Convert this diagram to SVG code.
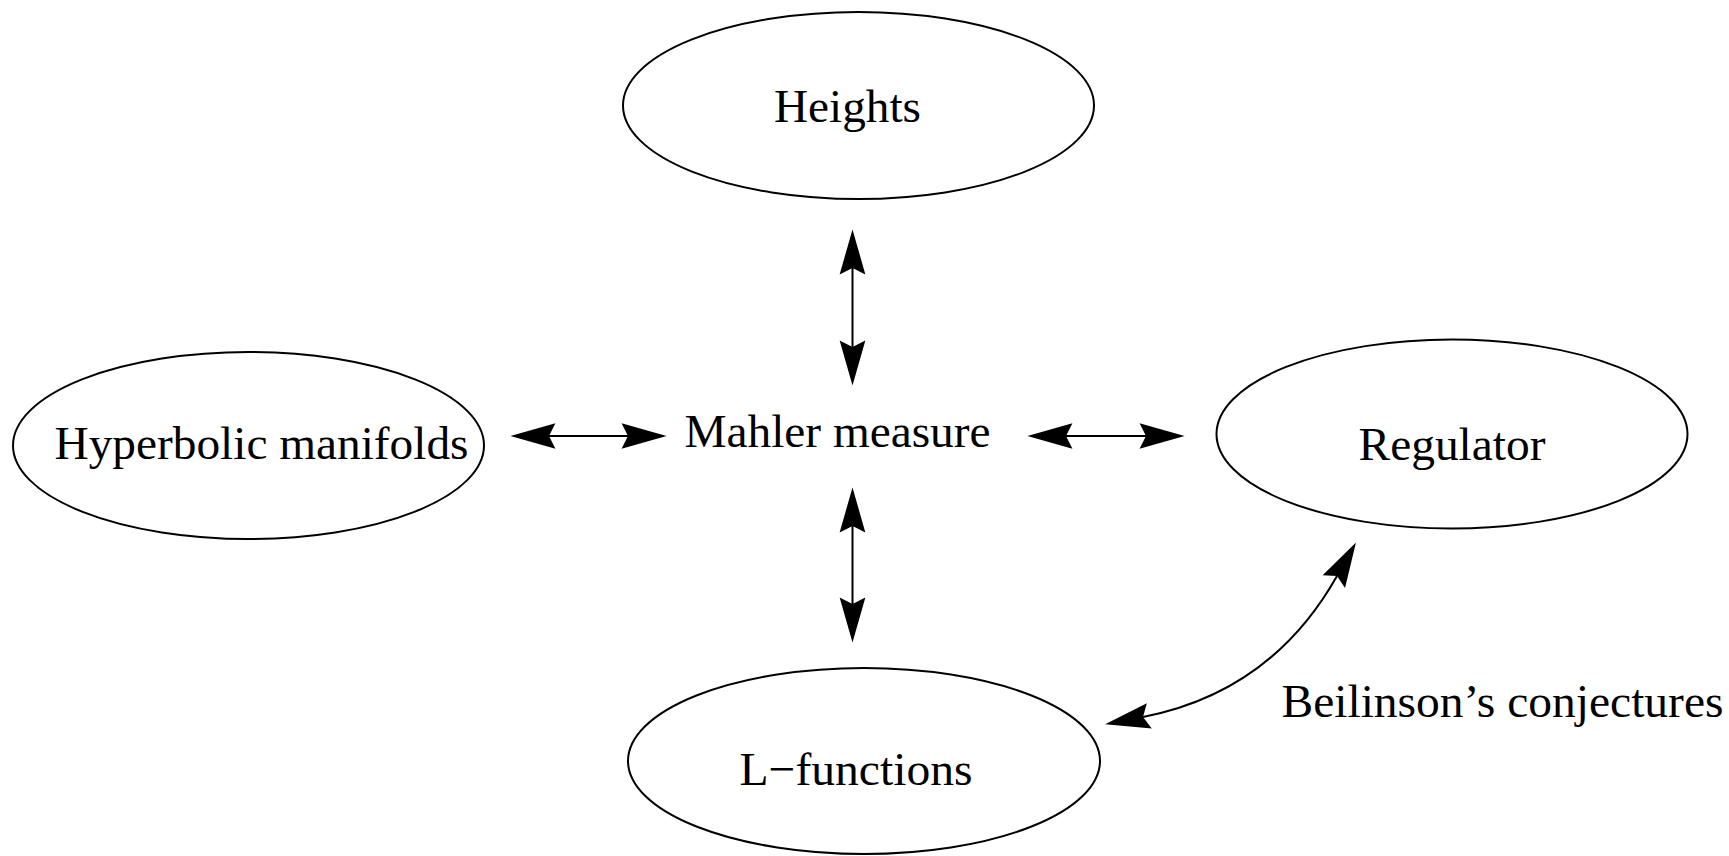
<svg xmlns="http://www.w3.org/2000/svg" width="1729" height="856" viewBox="0 0 1729 856">
<style>
.node{fill:#fff;stroke:#000;stroke-width:2}
.lbl{font-family:"Liberation Serif","Times New Roman",serif;font-size:47px;fill:#000;text-anchor:middle}
.edge{fill:none;stroke:#000;stroke-width:2}
</style>
<defs>
<marker id="ah" markerUnits="userSpaceOnUse" orient="auto-start-reverse" refX="0" refY="0" markerWidth="50" markerHeight="30" viewBox="-8 -14 46 28" overflow="visible">
<path d="M36,0 L-6,-12 L0,0 L-6,12 Z" fill="#000"/>
</marker>
</defs>
<rect width="1729" height="856" fill="#fff"/>
<g id="heights">
<ellipse class="node" cx="858.5" cy="105.5" rx="235.5" ry="93.5"/>
<text class="lbl" x="847.5" y="122" textLength="147" lengthAdjust="spacingAndGlyphs">Heights</text>
</g>
<g id="hyperbolic">
<ellipse class="node" cx="248.5" cy="445.5" rx="235.5" ry="93.5"/>
<text class="lbl" x="261.5" y="459" textLength="414" lengthAdjust="spacingAndGlyphs">Hyperbolic manifolds</text>
</g>
<g id="mahler">
<text class="lbl" x="837.5" y="447" textLength="306" lengthAdjust="spacingAndGlyphs">Mahler measure</text>
</g>
<g id="regulator">
<ellipse class="node" cx="1452" cy="434" rx="235.5" ry="94.5"/>
<text class="lbl" x="1452" y="460" textLength="187" lengthAdjust="spacingAndGlyphs">Regulator</text>
</g>
<g id="lfunctions">
<ellipse class="node" cx="864" cy="761" rx="236" ry="93"/>
<text class="lbl" x="856" y="785" textLength="233" lengthAdjust="spacingAndGlyphs">L−functions</text>
</g>
<g id="beilinson">
<text class="lbl" x="1502.5" y="717" textLength="442" lengthAdjust="spacingAndGlyphs">Beilinson’s conjectures</text>
</g>
<g id="connectors">
<line class="edge" x1="852.5" y1="268" x2="852.5" y2="347" marker-start="url(#ah)" marker-end="url(#ah)"/>
<line class="edge" x1="852.5" y1="526" x2="852.5" y2="604" marker-start="url(#ah)" marker-end="url(#ah)"/>
<line class="edge" x1="549" y1="436" x2="628" y2="436" marker-start="url(#ah)" marker-end="url(#ah)"/>
<line class="edge" x1="1066" y1="436" x2="1146" y2="436" marker-start="url(#ah)" marker-end="url(#ah)"/>
<path class="edge" d="M1143,717 Q1271.5,692 1337,576" marker-start="url(#ah)" marker-end="url(#ah)"/>
</g>
</svg>
